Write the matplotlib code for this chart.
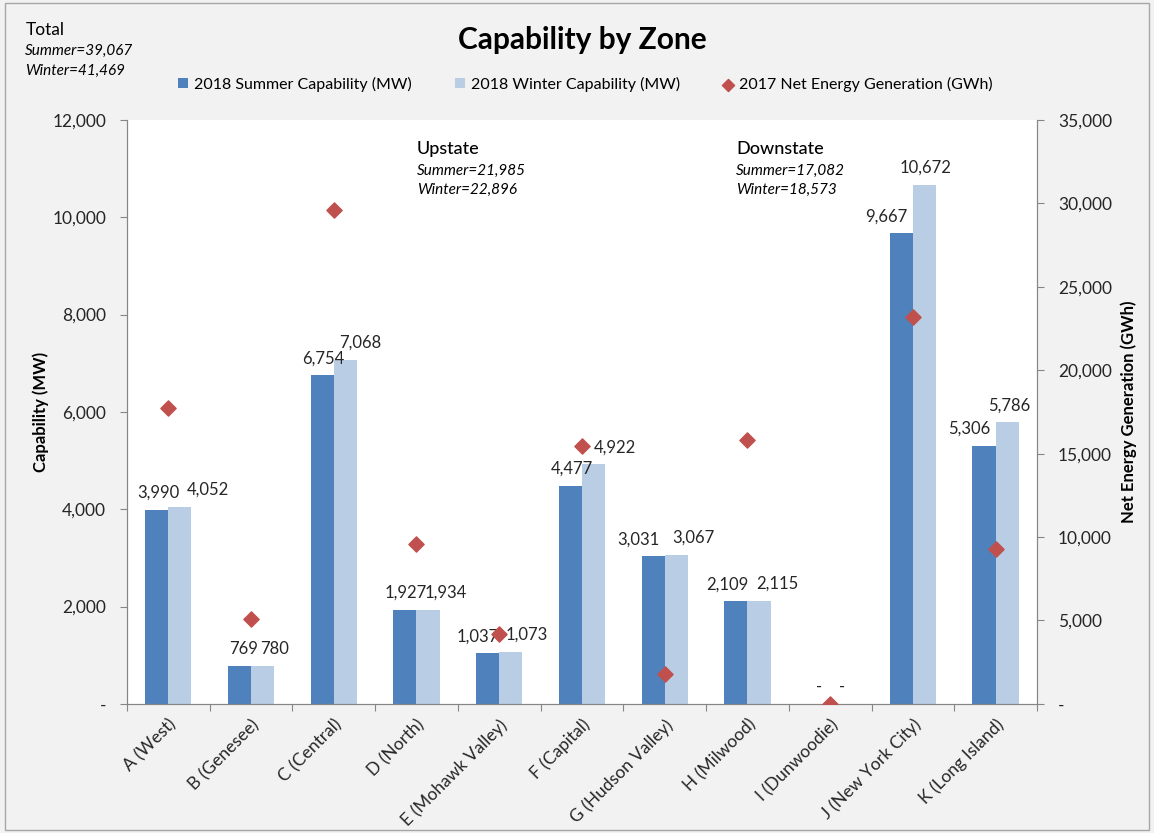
import numpy as np
import matplotlib.pyplot as plt
from matplotlib.ticker import FuncFormatter, FixedLocator
from matplotlib.patches import Rectangle

plt.rcParams['font.family'] = ['Lato', 'DejaVu Sans']

zones = ['A (West)', 'B (Genesee)', 'C (Central)', 'D (North)', 'E (Mohawk Valley)',
         'F (Capital)', 'G (Hudson Valley)', 'H (Milwood)', 'I (Dunwoodie)',
         'J (New York City)', 'K (Long Island)']
summer = [3990, 769, 6754, 1927, 1037, 4477, 3031, 2109, 0, 9667, 5306]
winter = [4052, 780, 7068, 1934, 1073, 4922, 3067, 2115, 0, 10672, 5786]
net_gen = [17750, 5100, 29600, 9600, 4200, 15450, 1800, 15800, 0, 23200, 9300]

# horizontal nudges of the data labels (pixels), as placed in the original
dx_summer = [2, 4, 1, 1, -10, 2, -15, -9, 0, -15, -15]
dx_winter = [28, 12, 15, 18, 16, 21, 17, 18, 0, 1, 2]

c_summer = '#4F81BD'
c_winter = '#B9CDE5'
c_gen = '#C0504D'
txt = '#262626'

def fmt(v, pos=None):
    return '-' if v == 0 else '{:,.0f}'.format(v)

fig = plt.figure(figsize=(11.54, 8.33), dpi=100)
fig.patch.set_facecolor('#f2f2f2')
fig.patches.append(Rectangle((0.004, 0.004), 0.992, 0.992, transform=fig.transFigure,
                             fill=False, edgecolor='#a6a6a6', linewidth=1))

ax = fig.add_axes([0.110, 0.155, 0.7886, 0.701])
ax2 = ax.twinx()
ax.set_zorder(ax2.get_zorder() - 1)
ax2.patch.set_visible(False)
ax.set_facecolor('white')

x = np.arange(len(zones))
w = 0.28
b1 = ax.bar(x - w / 2, summer, w, color=c_summer, label='2018 Summer Capability (MW)')
b2 = ax.bar(x + w / 2, winter, w, color=c_winter, label='2018 Winter Capability (MW)')
sc = ax2.scatter(x, net_gen, marker='D', s=60, color=c_gen, zorder=5,
                 label='2017 Net Energy Generation (GWh)')

for bars, vals, dxs in ((b1, summer, dx_summer), (b2, winter, dx_winter)):
    for r, v, d in zip(bars, vals, dxs):
        ax.annotate(fmt(v), (r.get_x() + r.get_width() / 2, v), xytext=(d, 17),
                    textcoords='offset pixels', ha='center', va='center',
                    fontsize=12, color=txt)

ax.set_xlim(-0.5, len(zones) - 0.5)
ax.set_ylim(0, 12000)
ax2.set_ylim(0, 35000)
ax.set_yticks(np.arange(0, 12001, 2000))
ax2.set_yticks(np.arange(0, 35001, 5000))
ax.yaxis.set_major_formatter(FuncFormatter(fmt))
ax2.yaxis.set_major_formatter(FuncFormatter(fmt))

ax.xaxis.set_major_locator(FixedLocator(np.arange(-0.5, len(zones), 1)))
ax.xaxis.set_minor_locator(FixedLocator(x))
ax.set_xticklabels([], minor=False)
ax.set_xticklabels(zones, minor=True, rotation=45, ha='right', rotation_mode='anchor',
                   fontsize=12.5, color=txt)
ax.tick_params(axis='x', which='minor', length=0, pad=9)
ax.tick_params(axis='x', which='major', length=5, color='#868686')

for a in (ax, ax2):
    a.spines['top'].set_visible(False)
    for s in ('left', 'right', 'bottom'):
        a.spines[s].set_color('#868686')
    a.tick_params(axis='y', length=5, color='#868686', labelsize=12.5, labelcolor=txt, pad=10)

ax.set_ylabel('Capability (MW)', fontsize=12, fontweight='bold', labelpad=2)
ax2.set_ylabel('Net Energy Generation (GWh)', fontsize=12, fontweight='bold', labelpad=6)

fig.text(0.505, 0.952, 'Capability by Zone', ha='center', va='center',
         fontsize=21.5, fontweight='bold')

fig.legend(handles=[b1, b2, sc], loc='center', bbox_to_anchor=(0.507, 0.899), ncol=3,
           frameon=False, fontsize=11.5, handlelength=0.65, handleheight=0.65,
           columnspacing=2.7, handletextpad=0.35, markerscale=0.8)

fig.text(0.022, 0.964, 'Total', fontsize=12.5, va='center')
fig.text(0.022, 0.939, 'Summer=39,067', fontsize=11, style='italic', va='center')
fig.text(0.022, 0.915, 'Winter=41,469', fontsize=11, style='italic', va='center')

fig.text(0.361, 0.821, 'Upstate', fontsize=13, fontweight='medium', va='center')
fig.text(0.361, 0.795, 'Summer=21,985', fontsize=11, style='italic', va='center')
fig.text(0.361, 0.772, 'Winter=22,896', fontsize=11, style='italic', va='center')

fig.text(0.638, 0.821, 'Downstate', fontsize=13, fontweight='medium', va='center')
fig.text(0.638, 0.795, 'Summer=17,082', fontsize=11, style='italic', va='center')
fig.text(0.638, 0.772, 'Winter=18,573', fontsize=11, style='italic', va='center')

fig.savefig('out.png', dpi=100, facecolor=fig.get_facecolor())
